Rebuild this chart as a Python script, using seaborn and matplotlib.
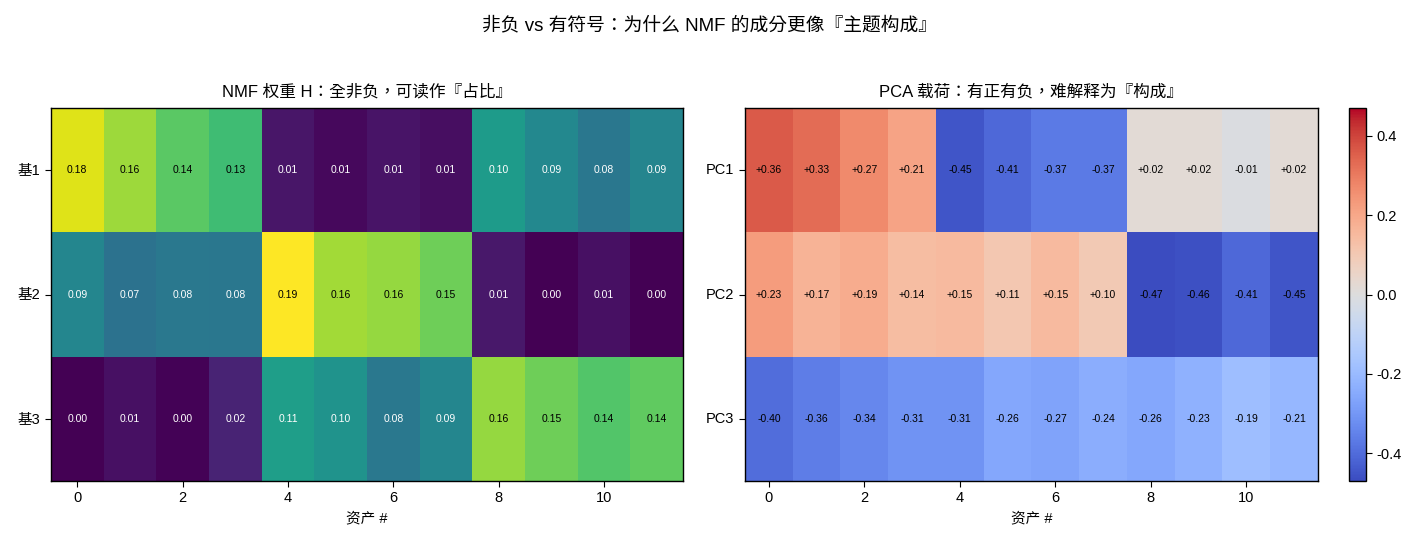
import numpy as np
import pandas as pd
import seaborn as sns
import matplotlib.pyplot as plt

sns.set_style("white")
plt.rcParams['font.family'] = ['Liberation Sans', 'Noto Sans CJK TC', 'DejaVu Sans']
plt.rcParams['axes.unicode_minus'] = False
for k in ['text.color', 'axes.labelcolor', 'xtick.color', 'ytick.color']:
    plt.rcParams[k] = 'black'

assets = list(range(12))
nmf_rows = ["基1", "基2", "基3"]
pca_rows = ["PC1", "PC2", "PC3"]

# NMF weights (labels show 2 decimals)
nmf_b1 = [0.181, 0.162, 0.142, 0.131, 0.012, 0.005, 0.011, 0.008, 0.104, 0.089, 0.076, 0.087]
nmf_b2 = [0.088, 0.072, 0.077, 0.076, 0.190, 0.164, 0.160, 0.148, 0.013, 0.001, 0.009, 0.001]
nmf_b3 = [0.001, 0.009, 0.002, 0.019, 0.106, 0.098, 0.077, 0.088, 0.160, 0.148, 0.139, 0.144]

pc1 = [0.36, 0.33, 0.27, 0.21, -0.45, -0.41, -0.37, -0.37, 0.02, 0.02, -0.01, 0.02]
pc2 = [0.23, 0.17, 0.19, 0.14, 0.15, 0.11, 0.15, 0.10, -0.47, -0.46, -0.41, -0.45]
pc3 = [-0.40, -0.36, -0.34, -0.31, -0.31, -0.26, -0.27, -0.24, -0.26, -0.23, -0.19, -0.21]

H = pd.DataFrame([nmf_b1, nmf_b2, nmf_b3], index=nmf_rows, columns=assets)
P = pd.DataFrame([pc1, pc2, pc3], index=pca_rows, columns=assets)

fig = plt.figure(figsize=(14.19, 5.45), dpi=100)
ax1 = fig.add_axes([0.0359, 0.1174, 0.4454, 0.6844])
ax2 = fig.add_axes([0.525, 0.1174, 0.4038, 0.6844])
cax = fig.add_axes([0.9507, 0.1174, 0.012, 0.6844])

# left: NMF weights
sns.heatmap(H, ax=ax1, cmap="viridis", cbar=False, annot=True, fmt=".2f",
            annot_kws={"fontsize": 7.5})
thr = 0.6 * H.values.max()
for t, v in zip(ax1.texts, H.values.ravel()):
    t.set_color("black" if v > thr else "white")

# right: PCA loadings
m = np.abs(P.values).max()
sns.heatmap(P, ax=ax2, cmap="coolwarm", vmin=-m, vmax=m, cbar_ax=cax,
            annot=True, fmt="+.2f", annot_kws={"fontsize": 7.5})
for t in ax2.texts:
    t.set_color("black")

for ax in (ax1, ax2):
    ax.set_xticks(np.arange(0, 12, 2) + 0.5)
    ax.set_xticklabels([str(a) for a in assets[::2]], rotation=0, fontsize=10.5)
    ax.set_yticklabels(ax.get_yticklabels(), rotation=0, fontsize=10.5)
    ax.tick_params(axis="both", length=4, width=0.8, bottom=True, left=True)
    ax.set_xlabel("资产 #", fontsize=10.5)
    ax.set_ylabel("")
    for s in ax.spines.values():
        s.set_visible(True)
        s.set_color("black")
        s.set_linewidth(1.0)

ax1.set_title("NMF 权重 H：全非负，可读作『占比』", fontsize=12, pad=8)
ax2.set_title("PCA 载荷：有正有负，难解释为『构成』", fontsize=12, pad=8)

cb = ax2.collections[0].colorbar
cb.outline.set_visible(True)
cb.outline.set_linewidth(1.0)
cb.outline.set_edgecolor("black")
cb.set_ticks([-0.4, -0.2, 0.0, 0.2, 0.4])
cax.tick_params(labelsize=10.5, length=4)

fig.suptitle("非负 vs 有符号：为什么 NMF 的成分更像『主题构成』", fontsize=13.5, y=0.97)

fig.savefig("out.png", dpi=100)
